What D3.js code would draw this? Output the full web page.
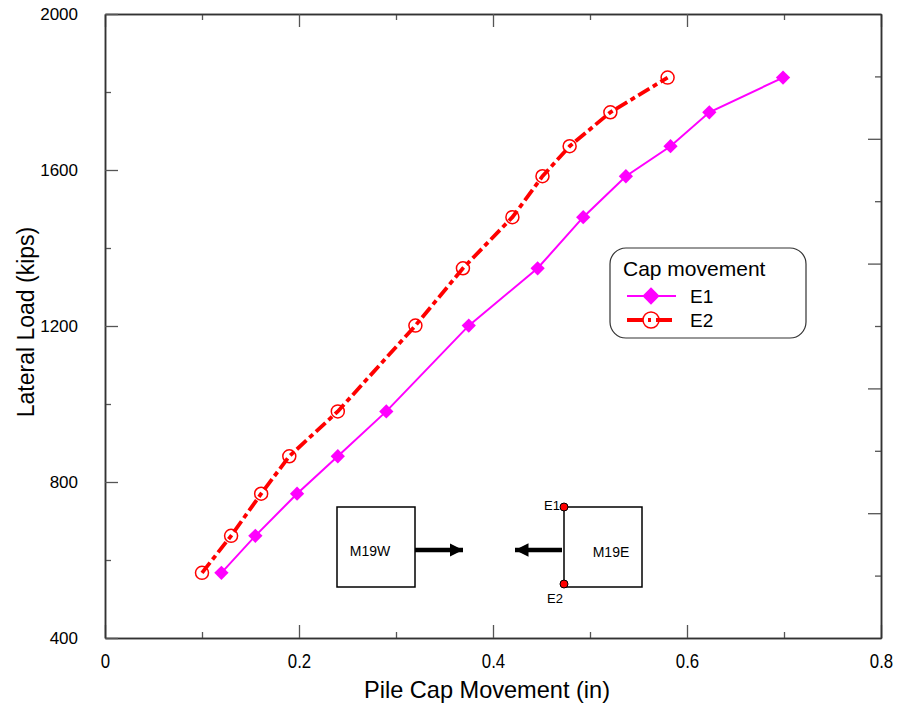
<!DOCTYPE html>
<html>
<head>
<meta charset="utf-8">
<script src="https://cdn.jsdelivr.net/npm/d3@7"></script>
<style>
  body { margin: 0; background: #fff; }
  text { font-family: "Liberation Sans", Arial, sans-serif; fill: #000; }
</style>
</head>
<body>
<div id="chart"></div>
<script>
// load levels (kips), same for both gauges
var loads = [567, 662, 770, 866, 981, 1201, 1348, 1479, 1584, 1661, 1748, 1837];
// movement at E1 and E2 (in)
var moveE1 = [0.120, 0.155, 0.198, 0.240, 0.290, 0.375, 0.446, 0.493, 0.537, 0.583, 0.623, 0.699];
var moveE2 = [0.100, 0.130, 0.161, 0.190, 0.240, 0.320, 0.369, 0.420, 0.451, 0.479, 0.521, 0.580];

var xTicks = [0, 0.2, 0.4, 0.6, 0.8];
var xMinor = [0.1, 0.3, 0.5, 0.7];
var yTicks = [400, 800, 1200, 1600, 2000];
var yMinor = [600, 1000, 1400, 1800];

var width = 899;
var height = 708;
var margin = { top: 14, right: 18, bottom: 70, left: 105 };
var w = width - margin.left - margin.right;
var h = height - margin.top - margin.bottom;

var series = [
  { name: "E1", values: moveE1.map((m, i) => ({ x: m, y: loads[i] })) },
  { name: "E2", values: moveE2.map((m, i) => ({ x: m, y: loads[i] })) }
];

/* Scale */
var xScale = d3.scaleLinear().domain([0, 0.8]).range([0, w]);
var yScale = d3.scaleLinear().domain([400, 2000]).range([h, 0]);
var rScale = d3.scaleLinear().domain([0, 10]).range([h, 0]);

var svg = d3.select("#chart").append("svg")
  .attr("width", width)
  .attr("height", height);

var g = svg.append("g")
  .attr("transform", `translate(${margin.left}, ${margin.top})`);

/* Axes: inward ticks on all four sides */
function styleAxis(sel) {
  sel.selectAll("path").attr("stroke", "#333").attr("stroke-width", 1.5);
  sel.selectAll("line").attr("stroke", "#555").attr("stroke-width", 1.3);
}

g.append("g").attr("transform", `translate(0, ${h})`)
  .call(d3.axisBottom(xScale).tickValues(xMinor).tickSize(-6).tickFormat("").tickSizeOuter(0))
  .call(styleAxis);
g.append("g").attr("transform", `translate(0, ${h})`)
  .call(d3.axisBottom(xScale).tickValues(xTicks).tickSize(-13).tickPadding(26).tickSizeOuter(0)
    .tickFormat(d => d === 0 ? "0" : d3.format(".1f")(d)))
  .call(styleAxis)
  .selectAll("text")
  .attr("font-size", 21)
  .attr("dy", "0.2em")
  .attr("transform", "scale(0.8, 1)");

g.append("g")
  .call(d3.axisTop(xScale).tickValues(xMinor).tickSize(-6).tickFormat("").tickSizeOuter(0))
  .call(styleAxis);
g.append("g")
  .call(d3.axisTop(xScale).tickValues(xTicks).tickSize(-13).tickFormat("").tickSizeOuter(0))
  .call(styleAxis);

g.append("g")
  .call(d3.axisLeft(yScale).tickValues(yMinor).tickSize(-6).tickFormat("").tickSizeOuter(0))
  .call(styleAxis);
g.append("g")
  .call(d3.axisLeft(yScale).tickValues(yTicks).tickSize(-13).tickPadding(27).tickSizeOuter(0)
    .tickFormat(d3.format("d")))
  .call(styleAxis)
  .selectAll("text")
  .attr("font-size", 17);

g.append("g").attr("transform", `translate(${w}, 0)`)
  .call(d3.axisRight(rScale).tickValues([1, 3, 5, 7, 9]).tickSize(-6).tickFormat("").tickSizeOuter(0))
  .call(styleAxis);
g.append("g").attr("transform", `translate(${w}, 0)`)
  .call(d3.axisRight(rScale).tickValues([2, 4, 6, 8]).tickSize(-13).tickFormat("").tickSizeOuter(0))
  .call(styleAxis);

/* Axis titles */
svg.append("text")
  .attr("x", 487)
  .attr("y", 698)
  .attr("text-anchor", "middle")
  .attr("font-size", 24)
  .attr("textLength", 246)
  .attr("lengthAdjust", "spacingAndGlyphs")
  .text("Pile Cap Movement (in)");

svg.append("text")
  .attr("transform", "translate(34, 322) rotate(-90)")
  .attr("text-anchor", "middle")
  .attr("font-size", 23)
  .text("Lateral Load (kips)");

/* Lines */
var line = d3.line().x(d => xScale(d.x)).y(d => yScale(d.y));

var diamond = d3.symbol().type(d3.symbolDiamond2).size(130);

g.append("path")
  .attr("d", line(series[0].values))
  .attr("fill", "none")
  .attr("stroke", "#ff00ff")
  .attr("stroke-width", 2);

g.append("path")
  .attr("d", line(series[1].values))
  .attr("fill", "none")
  .attr("stroke", "#ff0000")
  .attr("stroke-width", 3.8)
  .attr("stroke-dasharray", "13,4,5,4");

g.selectAll(".e1")
  .data(series[0].values).enter()
  .append("path")
  .attr("class", "e1")
  .attr("transform", d => `translate(${xScale(d.x)}, ${yScale(d.y)})`)
  .attr("d", diamond)
  .attr("fill", "#ff00ff");

g.selectAll(".e2")
  .data(series[1].values).enter()
  .append("circle")
  .attr("class", "e2")
  .attr("cx", d => xScale(d.x))
  .attr("cy", d => yScale(d.y))
  .attr("r", 6.5)
  .attr("fill", "none")
  .attr("stroke", "#ff0000")
  .attr("stroke-width", 1.5);

/* Legend */
var legend = svg.append("g").attr("transform", "translate(610, 248)");
legend.append("rect")
  .attr("width", 196).attr("height", 90)
  .attr("rx", 16).attr("ry", 16)
  .attr("fill", "#fff")
  .attr("stroke", "#333")
  .attr("stroke-width", 1.2);
legend.append("text")
  .attr("x", 13).attr("y", 28)
  .attr("font-size", 21)
  .text("Cap movement");

legend.append("line")
  .attr("x1", 17).attr("x2", 66).attr("y1", 48).attr("y2", 48)
  .attr("stroke", "#ff00ff").attr("stroke-width", 2);
legend.append("path")
  .attr("transform", "translate(41, 48)")
  .attr("d", d3.symbol().type(d3.symbolDiamond2).size(190))
  .attr("fill", "#ff00ff");
legend.append("text").attr("x", 80).attr("y", 55).attr("font-size", 19).text("E1");

legend.append("line")
  .attr("x1", 17).attr("x2", 66).attr("y1", 72).attr("y2", 72)
  .attr("stroke", "#ff0000").attr("stroke-width", 3.8)
  .attr("stroke-dasharray", "16,5,3,5");
legend.append("circle")
  .attr("cx", 41).attr("cy", 72).attr("r", 8)
  .attr("fill", "none").attr("stroke", "#ff0000").attr("stroke-width", 1.5);
legend.append("text").attr("x", 80).attr("y", 79).attr("font-size", 19).text("E2");

/* Sketch of the two pile caps */
var sketch = svg.append("g");
svg.append("defs").append("marker")
  .attr("id", "head")
  .attr("viewBox", "0 0 10 10")
  .attr("refX", 10).attr("refY", 5)
  .attr("markerWidth", 3).attr("markerHeight", 3)
  .attr("markerUnits", "strokeWidth")
  .attr("orient", "auto")
  .append("path").attr("d", "M0,0L10,5L0,10Z").attr("fill", "#000");

sketch.append("rect")
  .attr("x", 337).attr("y", 507).attr("width", 78).attr("height", 80)
  .attr("fill", "none").attr("stroke", "#000").attr("stroke-width", 1.5);
sketch.append("text")
  .attr("x", 370).attr("y", 556).attr("text-anchor", "middle").attr("font-size", 14)
  .text("M19W");
sketch.append("line")
  .attr("x1", 415).attr("x2", 463).attr("y1", 550).attr("y2", 550)
  .attr("stroke", "#000").attr("stroke-width", 4.5)
  .attr("marker-end", "url(#head)");

sketch.append("rect")
  .attr("x", 564).attr("y", 507).attr("width", 78).attr("height", 80)
  .attr("fill", "none").attr("stroke", "#000").attr("stroke-width", 1.5);
sketch.append("text")
  .attr("x", 611).attr("y", 557).attr("text-anchor", "middle").attr("font-size", 14)
  .text("M19E");
sketch.append("line")
  .attr("x1", 562).attr("x2", 515).attr("y1", 550).attr("y2", 550)
  .attr("stroke", "#000").attr("stroke-width", 4.5)
  .attr("marker-end", "url(#head)");
sketch.selectAll(".gauge")
  .data([{ y: 507, label: "E1", tx: 560, ty: 510, anchor: "end" },
         { y: 584, label: "E2", tx: 555, ty: 603, anchor: "middle" }])
  .enter().append("g")
  .each(function (d) {
    var s = d3.select(this);
    s.append("circle").attr("cx", 564).attr("cy", d.y).attr("r", 4)
      .attr("fill", "#ff0000").attr("stroke", "#000").attr("stroke-width", 1);
    s.append("text").attr("x", d.tx).attr("y", d.ty).attr("text-anchor", d.anchor)
      .attr("font-size", 13).text(d.label);
  });
</script>
</body>
</html>
